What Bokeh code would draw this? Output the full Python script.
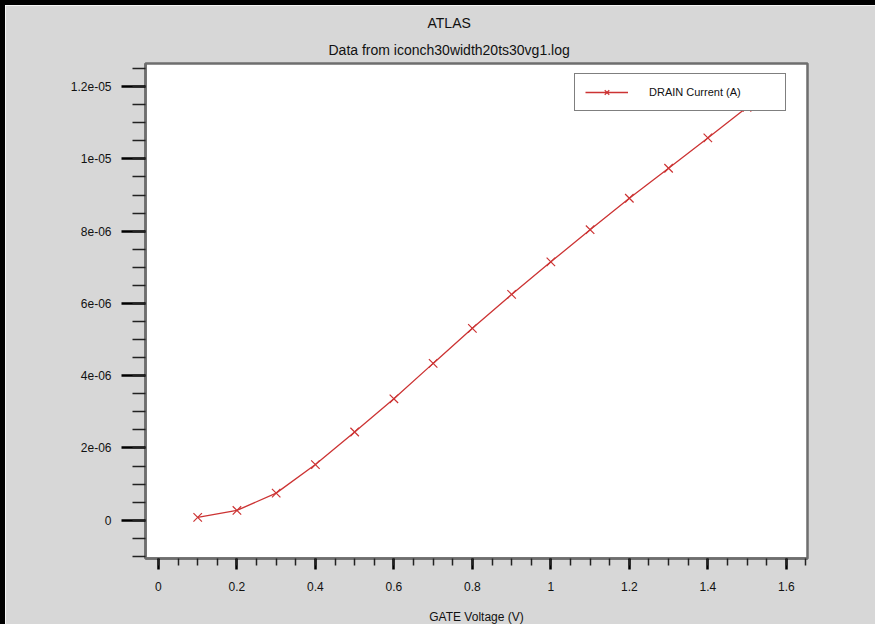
from bokeh.plotting import figure
from bokeh.models import FixedTicker, Range1d, Title, Legend, LegendItem
from bokeh.embed import file_html
from bokeh.resources import INLINE
import numpy as np

# ---- data ----
gate_voltage = [0.1, 0.2, 0.3, 0.4, 0.5, 0.6, 0.7, 0.8, 0.9, 1.0, 1.1, 1.2, 1.3, 1.4, 1.5]
drain_current = [0.08e-6, 0.27e-6, 0.75e-6, 1.54e-6, 2.44e-6, 3.36e-6, 4.34e-6, 5.31e-6,
                 6.25e-6, 7.15e-6, 8.04e-6, 8.91e-6, 9.74e-6, 10.58e-6, 11.43e-6]

x_ticks = [0.0, 0.2, 0.4, 0.6, 0.8, 1.0, 1.2, 1.4, 1.6]
x_tick_labels = ["0", "0.2", "0.4", "0.6", "0.8", "1", "1.2", "1.4", "1.6"]
y_ticks = [0.0, 2e-06, 4e-06, 6e-06, 8e-06, 1e-05, 1.2e-05]
y_tick_labels = ["0", "2e-06", "4e-06", "6e-06", "8e-06", "1e-05", "1.2e-05"]

title_main = "ATLAS"
title_sub = "Data from iconch30width20ts30vg1.log"
x_label = "GATE Voltage (V)"
series_name = "DRAIN Current (A)"

FONT = "Liberation Sans"
BG = "#d7d7d7"
RED = "#cc3333"
TXT = "#111111"

p = figure(width=875, height=624, output_backend="svg", toolbar_location=None,
           x_range=Range1d(-0.033, 1.654), y_range=Range1d(-1.06e-6, 12.64e-6),
           min_border_left=140, min_border_right=73, min_border_top=58, min_border_bottom=71)
p.styles = {"border-top": "5px solid black", "border-left": "5px solid black"}

p.background_fill_color = "white"
p.border_fill_color = BG
p.outline_line_color = "#6e6e6e"
p.outline_line_width = 2.5
p.grid.visible = False

# titles (far one = p.title, near one added afterwards)
p.title.text = title_main
p.title.align = "left"
p.title.offset = 282
p.title.text_font = FONT
p.title.text_font_size = "14px"
p.title.text_font_style = "normal"
p.title.text_color = TXT
p.title.standoff = 8
t2 = Title(text=title_sub, align="left", offset=183, text_font=FONT,
           text_font_size="14px", text_font_style="normal", text_color=TXT, standoff=11)
p.add_layout(t2, "above")

# axes
x_minor = [round(v, 2) for v in np.arange(0, 1.66, 0.05)]
y_minor = [round(v, 8) for v in np.arange(-1e-6, 12.6e-6, 0.5e-6)]
p.xaxis.ticker = FixedTicker(ticks=x_ticks, minor_ticks=x_minor)
p.yaxis.ticker = FixedTicker(ticks=y_ticks, minor_ticks=y_minor)
p.xaxis.major_label_overrides = dict(zip(x_ticks, x_tick_labels))
p.yaxis.major_label_overrides = dict(zip(y_ticks, y_tick_labels))

for ax in (p.xaxis, p.yaxis):
    ax.axis_line_color = "#6e6e6e"
    ax.axis_line_width = 2.5
    ax.major_tick_line_color = "black"
    ax.minor_tick_line_color = "#222222"
    ax.major_tick_in = 0
    ax.minor_tick_in = 0
    ax.major_label_text_font = FONT
    ax.major_label_text_font_size = "12px"
    ax.major_label_text_color = TXT

p.xaxis.major_tick_out = 11
p.xaxis.minor_tick_out = 7
p.xaxis.major_tick_line_width = 2.5
p.xaxis.minor_tick_line_width = 1.5
p.xaxis.major_label_standoff = 12
p.xaxis.axis_label = x_label
p.xaxis.axis_label_text_font = FONT
p.xaxis.axis_label_text_font_size = "12px"
p.xaxis.axis_label_text_font_style = "normal"
p.xaxis.axis_label_text_color = TXT
p.xaxis.axis_label_standoff = 16

p.yaxis.major_tick_out = 24
p.yaxis.minor_tick_out = 13
p.yaxis.major_tick_line_width = 2.5
p.yaxis.minor_tick_line_width = 1.5
p.yaxis.major_label_standoff = 10

# data
ln = p.line(gate_voltage, drain_current, line_color=RED, line_width=1.3)
sc = p.scatter(gate_voltage, drain_current, marker="x", size=12, line_color=RED, line_width=1.2)

legend = Legend(items=[LegendItem(label=series_name, renderers=[ln, sc])],
                location=(429, 447), padding=10, glyph_width=43, glyph_height=16,
                label_standoff=21, label_width=126, margin=0,
                border_line_color="black", border_line_width=1.5,
                background_fill_color="white", background_fill_alpha=1,
                label_text_font=FONT, label_text_font_size="11px", label_text_color=TXT)
p.add_layout(legend, "center")

open("out.html", "w").write(file_html(p, INLINE))
